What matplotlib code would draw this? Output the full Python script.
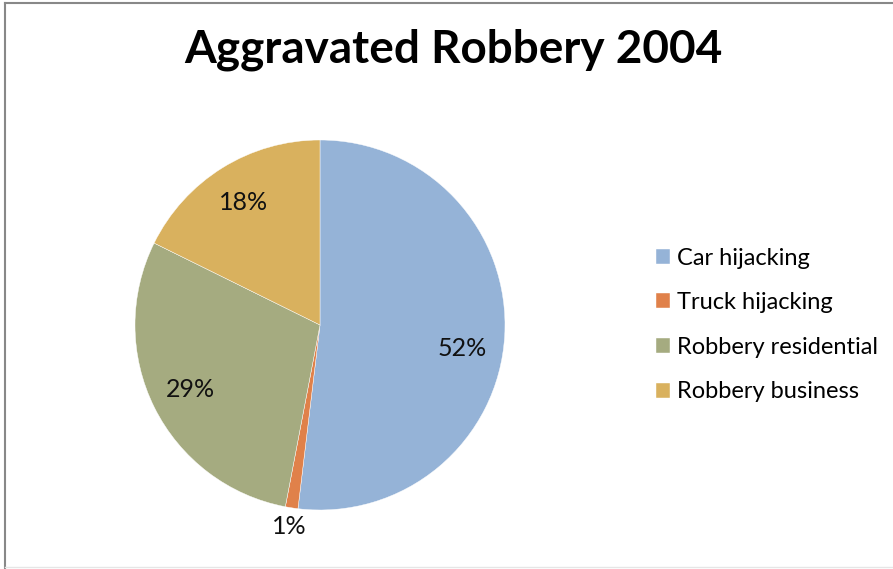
import matplotlib.pyplot as plt
from matplotlib.lines import Line2D
import numpy as np

labels = ['Car hijacking', 'Truck hijacking', 'Robbery residential', 'Robbery business']
shares = [51.9, 1.1, 29.3, 17.7]
pct_text = ['52%', '1%', '29%', '18%']
colors = ['#95B3D7', '#E0814A', '#A5AB80', '#D9B15E']

plt.rcParams['font.family'] = ['Lato', 'DejaVu Sans']

W, H = 893, 569
fig = plt.figure(figsize=(W / 100, H / 100), dpi=100)

# chart frame (left/top gray, bottom faint)
fig.add_artist(Line2D([5 / W, 5 / W], [0, 1 - 3 / H], color='#888888', lw=1.5, transform=fig.transFigure))
fig.add_artist(Line2D([5 / W, 1], [1 - 3 / H, 1 - 3 / H], color='#888888', lw=1.5, transform=fig.transFigure))
fig.add_artist(Line2D([5 / W, 1], [2 / H, 2 / H], color='#e6e6e6', lw=1, transform=fig.transFigure))

cx, cy, r = 320, 325, 185
ax = fig.add_axes([(cx - r) / W, (H - cy - r) / H, 2 * r / W, 2 * r / H])
wedges, _ = ax.pie(shares, colors=colors, startangle=90, counterclock=False,
                   wedgeprops=dict(linewidth=0.3, edgecolor='white'))
ax.set_xlim(-1, 1)
ax.set_ylim(-1, 1)
ax.axis('off')

# percentage labels along each wedge's middle angle
for w, t in zip(wedges, pct_text):
    mid = np.deg2rad((w.theta1 + w.theta2) / 2)
    dist = 1.1 if t == '1%' else 0.78
    if t == '52%':
        mid -= np.deg2rad(6)
    ax.text(dist * np.cos(mid), dist * np.sin(mid), t, ha='center', va='center',
            fontsize=18, color='#111111', clip_on=False)

fig.text(453 / W, 1 - 50 / H, 'Aggravated Robbery 2004', ha='center', va='center',
         fontsize=33, fontweight='bold', color='black')

fig.legend(wedges, labels, loc='center left', bbox_to_anchor=(644 / W, 1 - 325 / H),
           frameon=False, fontsize=17, handlelength=0.6, handleheight=0.6,
           handletextpad=0.3, labelspacing=1.0, borderpad=0)

fig.savefig('out.png', dpi=100)
